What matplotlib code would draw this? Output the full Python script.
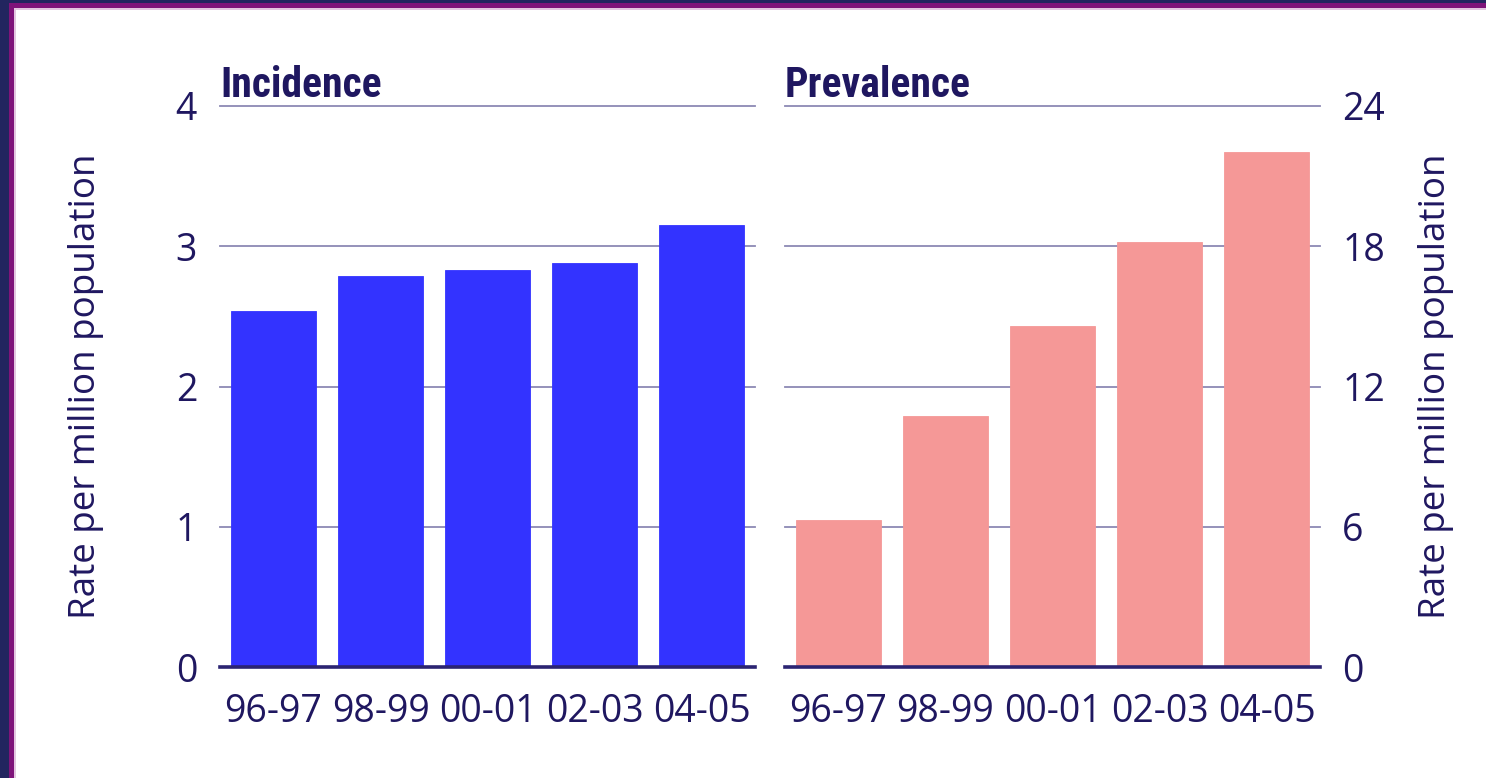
import matplotlib
matplotlib.use("Agg")
import matplotlib.pyplot as plt
from matplotlib.patches import Rectangle

# Data
periods = ["96-97", "98-99", "00-01", "02-03", "04-05"]
incidence = [2.54, 2.79, 2.83, 2.88, 3.15]
prevalence = [6.3, 10.75, 14.6, 18.2, 22.05]
incidence_ticks = [0, 1, 2, 3, 4]
prevalence_ticks = [0, 6, 12, 18, 24]

NAVY = "#1f1760"
GRID = "#8c89b4"
SPINE = "#2b2472"
BLUE = "#3333ff"
PINK = "#f59897"

plt.rcParams["font.family"] = ["Open Sans", "DejaVu Sans"]
TITLE_FONT = ["Roboto Condensed", "Roboto", "DejaVu Sans"]

fig = plt.figure(figsize=(14.86, 7.78), dpi=100)
fig.patch.set_facecolor("white")

# Frame stripes along the top and left edges
W, H = 1486, 778
def band(x, y, w, h, color):
    fig.patches.append(Rectangle((x / W, 1 - (y + h) / H), w / W, h / H,
                                 transform=fig.transFigure, facecolor=color,
                                 edgecolor="none", zorder=0))
band(0, 0, W, 3.5, "#22255f")
band(0, 3.5, W, 5, "#7f147a")
band(0, 8.5, W, 1.5, "#e3c6e0")
band(0, 0, 9, H, "#22255f")
band(9, 3.5, 5, H, "#7f147a")
band(14, 8.5, 1.5, H, "#e3c6e0")

ax1 = fig.add_axes([220 / W, 1 - 667 / H, 535 / W, 561 / H])
ax2 = fig.add_axes([785 / W, 1 - 667 / H, 535 / W, 561 / H])

x = list(range(len(periods)))

def style(ax, values, color, ticks, title, side):
    ax.bar(x, values, width=0.8, color=color, zorder=3,
           edgecolor=color, linewidth=0.6)
    ax.set_xlim(-0.5, len(periods) - 0.5)
    ax.set_ylim(ticks[0], ticks[-1])
    ax.set_yticks(ticks)
    ax.set_yticklabels([str(t) for t in ticks])
    ax.set_xticks(x)
    ax.set_xticklabels(periods)
    for s in ["top", "left", "right"]:
        ax.spines[s].set_visible(False)
    ax.spines["bottom"].set_color(SPINE)
    ax.spines["bottom"].set_linewidth(2.6)
    ax.spines["bottom"].set_zorder(4)
    ax.yaxis.grid(True, color=GRID, linewidth=1.3, zorder=1)
    ax.set_axisbelow(True)
    for gl in ax.get_ygridlines():
        gl.set_clip_on(False)
    ax.tick_params(axis="x", direction="in", length=3, width=0.8,
                   color="#9a97bf", labelsize=27, labelcolor=NAVY, pad=19)
    ax.tick_params(axis="y", length=0, labelsize=27, labelcolor=NAVY)
    if side == "left":
        ax.tick_params(axis="y", pad=16.5)
        ax.set_ylabel("Rate per million population", fontsize=26.5, color=NAVY)
        ax.yaxis.set_label_coords(-0.2168, 0.5)
    else:
        ax.yaxis.tick_right()
        ax.yaxis.set_label_position("right")
        ax.tick_params(axis="y", pad=16)
        ax.set_ylabel("Rate per million population", fontsize=26.5, color=NAVY)
        ax.yaxis.label.set_rotation(90)
        ax.yaxis.set_label_coords(1.1832, 0.5)
    ax.set_title(title, loc="left", fontsize=30, fontweight="bold",
                 color=NAVY, family=TITLE_FONT, pad=6)

style(ax1, incidence, BLUE, incidence_ticks, "Incidence", "left")
style(ax2, prevalence, PINK, prevalence_ticks, "Prevalence", "right")

fig.savefig("out.png", dpi=100, facecolor="white")
